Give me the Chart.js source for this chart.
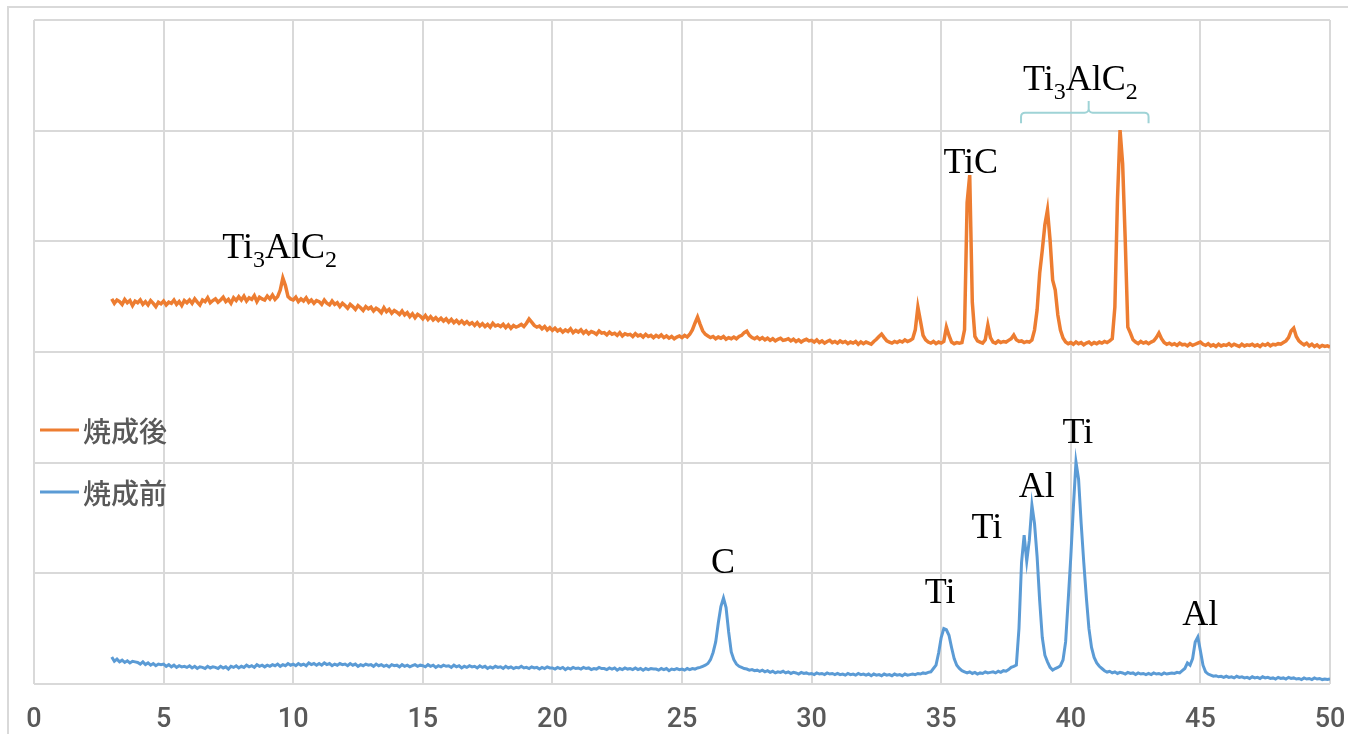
<!DOCTYPE html>
<html>
<head>
<meta charset="utf-8">
<script src="https://cdn.jsdelivr.net/npm/chart.js@4.4.1/dist/chart.umd.min.js"></script>
<style>
  html, body { margin: 0; padding: 0; background: #fff; overflow: hidden; }
  #frame { position: absolute; left: 7px; top: 6px; width: 2000px; height: 2000px;
           border-top: 2px solid #d9d9d9; border-left: 2px solid #d9d9d9; }
  #wrap { position: absolute; left: 0; top: 0; width: 1348px; height: 734px; }
</style>
</head>
<body>
<div id="frame"></div>
<div id="wrap"><canvas id="myChart" width="1348" height="734"></canvas></div>
<script>
// scan grid: 2theta from 3.0 to 50.0, step 0.1
let scanStart = 3.0;
let scanStep = 0.1;

// 焼成後 (after firing), one row per degree
let afterFiring = [
  3480,3440,3470,3455,3430,3475,3445,3465,3420,3460,
  3445,3470,3430,3455,3425,3465,3440,3410,3450,3435,
  3460,3425,3450,3440,3470,3430,3455,3420,3465,3445,
  3470,3440,3480,3450,3425,3470,3455,3490,3445,3465,
  3480,3450,3470,3495,3455,3475,3440,3490,3465,3500,
  3470,3505,3460,3490,3475,3510,3455,3495,3480,3470,
  3505,3480,3515,3475,3500,3560,3668,3600,3500,3480,
  3470,3495,3455,3480,3460,3490,3450,3470,3440,3465,
  3455,3430,3470,3440,3425,3460,3430,3445,3410,3440,
  3420,3395,3430,3410,3385,3420,3400,3375,3410,3390,
  3405,3370,3395,3380,3355,3400,3365,3385,3350,3375,
  3360,3340,3370,3335,3355,3320,3345,3310,3340,3325,
  3300,3330,3295,3320,3290,3310,3285,3305,3280,3300,
  3270,3295,3265,3285,3260,3280,3255,3275,3250,3265,
  3240,3265,3235,3255,3230,3250,3225,3260,3235,3245,
  3230,3250,3220,3245,3215,3240,3225,3235,3250,3230,
  3260,3298,3270,3240,3225,3235,3210,3230,3200,3220,
  3195,3215,3190,3205,3180,3200,3185,3210,3175,3195,
  3180,3200,3170,3190,3165,3185,3175,3160,3190,3170,
  3175,3155,3180,3160,3170,3150,3175,3145,3165,3155,
  3160,3140,3165,3145,3155,3135,3160,3140,3150,3130,
  3150,3135,3155,3130,3145,3125,3140,3120,3135,3145,
  3130,3150,3135,3160,3200,3260,3316,3250,3190,3160,
  3145,3130,3140,3120,3135,3125,3140,3115,3130,3120,
  3135,3120,3140,3150,3175,3189,3150,3130,3120,3135,
  3115,3130,3110,3125,3105,3120,3100,3115,3125,3105,
  3110,3120,3100,3115,3095,3110,3090,3105,3115,3100,
  3105,3090,3110,3085,3100,3080,3095,3105,3085,3095,
  3080,3100,3085,3095,3075,3090,3080,3095,3070,3090,
  3075,3090,3080,3070,3095,3115,3140,3162,3130,3100,
  3090,3080,3095,3085,3100,3090,3110,3095,3105,3120,
  3200,3406,3280,3150,3110,3090,3080,3095,3075,3090,
  3080,3095,3225,3150,3090,3075,3085,3080,3085,3200,
  4350,4599,3450,3140,3100,3090,3080,3110,3244,3130,
  3090,3080,3100,3085,3095,3090,3105,3120,3153,3110,
  3095,3100,3085,3095,3090,3108,3198,3379,3713,3921,
  4150,4283,4012,3650,3560,3334,3198,3126,3090,3075,
  3085,3070,3090,3075,3085,3065,3080,3090,3070,3085,
  3075,3090,3080,3095,3085,3100,3120,3406,4373,5005,
  4700,4012,3225,3171,3110,3090,3075,3095,3080,3090,
  3075,3090,3100,3130,3171,3120,3085,3070,3080,3065,
  3075,3060,3080,3065,3070,3055,3075,3060,3070,3080,
  3090,3070,3060,3075,3055,3065,3050,3070,3055,3065,
  3060,3075,3055,3070,3060,3050,3070,3055,3065,3060,
  3070,3055,3065,3050,3070,3060,3075,3055,3070,3065,
  3075,3070,3085,3100,3130,3190,3216,3140,3100,3080,
  3065,3080,3055,3070,3050,3065,3045,3060,3050,3055,
  3045
];

// 焼成前 (before firing)
let beforeFiring = [
  245,205,225,200,215,195,210,190,205,200,
  195,180,200,175,190,170,185,165,180,175,
  180,160,175,155,170,150,165,155,160,150,
  165,145,160,140,155,150,140,160,145,155,
  150,140,160,145,155,135,160,150,165,145,
  160,150,170,155,165,150,175,160,170,155,
  170,160,175,165,180,160,175,165,185,170,
  180,165,185,170,180,165,190,175,185,170,
  185,170,190,175,185,165,180,170,185,175,
  180,165,185,170,180,160,175,165,180,170,
  175,160,180,165,175,160,170,155,175,165,
  170,155,175,160,170,155,165,175,160,170,
  165,155,175,160,170,150,165,155,170,160,
  165,150,170,155,165,145,160,150,165,155,
  160,145,165,150,160,140,155,145,160,150,
  155,140,160,145,155,140,150,145,160,145,
  150,140,155,145,150,135,150,140,155,145,
  145,135,150,140,150,130,145,135,150,140,
  145,135,150,140,145,130,140,135,150,140,
  140,130,145,135,145,125,140,130,145,135,
  140,130,145,130,140,125,140,130,140,135,
  135,125,140,130,140,120,135,130,140,130,
  135,125,140,130,140,135,145,150,160,170,
  185,220,285,380,551,700,777,690,470,290,
  220,180,160,150,140,135,125,130,120,125,
  115,125,110,120,105,115,100,110,105,115,
  100,110,95,105,100,90,105,95,100,90,
  95,85,100,90,95,85,100,90,95,85,
  95,85,90,80,95,85,90,80,95,85,
  90,80,90,75,90,80,85,75,90,80,
  85,75,90,80,85,75,90,80,85,90,
  85,95,90,100,95,105,110,140,170,280,
  420,500,490,440,330,230,170,140,120,110,
  100,110,95,105,90,100,95,110,100,105,
  110,100,115,105,120,115,130,150,160,172,
  500,1100,1346,1110,1300,1617,1450,1150,750,420,
  260,200,150,126,140,150,165,217,380,759,
  1150,1600,2006,1850,1450,1100,780,500,330,240,
  190,160,140,120,108,115,100,110,95,105,
  100,90,105,95,100,85,100,90,95,85,
  95,85,100,90,95,85,100,90,95,100,
  95,105,100,120,140,190,170,230,380,425,
  300,170,110,90,80,70,75,65,70,60,
  70,60,65,55,70,60,65,55,60,50,
  65,55,60,50,65,55,60,50,55,45,
  60,50,55,45,60,50,55,45,50,40,
  55,45,50,40,55,45,50,40,45,40,
  45
];

let seriesNames = ['焼成後', '焼成前'];
let seriesColors = ['#ED7D31', '#5B9BD5'];

// peak labels: text ('_' marks a subscript digit), 2theta, intensity at baseline
let peakTexts  = ['Ti_3AlC_2', 'TiC', 'Ti_3AlC_2', 'C', 'Ti', 'Ti', 'Al', 'Ti', 'Al'];
let peakAngles = [9.48, 36.14, 40.37, 26.58, 34.96, 36.76, 38.69, 40.27, 44.99];
let peakLevels = [3849, 4617, 5367, 1003, 732, 1319, 1690, 2177, 533];

// bracket over the two Ti3AlC2 peaks: from, to, middle (2theta), bar / end / tip intensity
let bracketAngles = [38.08, 43.0, 40.69];
let bracketLevels = [5163, 5066, 5267];

let angles = [];
for (let i = 0; i < afterFiring.length; i++) {
    angles.push(Math.round((scanStart + i * scanStep) * 10) / 10);
}

function drawSubText(ctx, text, cx, baseY) {
    let parts = [];
    for (let i = 0; i < text.length; i++) {
        if (text[i] === '_') {
            parts.push({ t: text[i + 1], sub: true });
            i++;
        } else if (parts.length && !parts[parts.length - 1].sub) {
            parts[parts.length - 1].t += text[i];
        } else {
            parts.push({ t: text[i], sub: false });
        }
    }
    let big = '36px "Liberation Serif", "Times New Roman", serif';
    let small = '24px "Liberation Serif", "Times New Roman", serif';
    let total = 0;
    parts.forEach(p => {
        ctx.font = p.sub ? small : big;
        p.w = ctx.measureText(p.t).width;
        total += p.w;
    });
    let x = cx - total / 2;
    ctx.textAlign = 'left';
    ctx.textBaseline = 'alphabetic';
    ctx.fillStyle = '#000';
    parts.forEach(p => {
        ctx.font = p.sub ? small : big;
        ctx.fillText(p.t, x, p.sub ? baseY + 9 : baseY);
        x += p.w;
    });
}

const labelPlugin = {
    id: 'peakLabels',
    afterDatasetsDraw(chart) {
        const ctx = chart.ctx;
        const xs = chart.scales.x, ys = chart.scales.y;
        ctx.save();
        for (let i = 0; i < peakTexts.length; i++) {
            drawSubText(ctx, peakTexts[i], xs.getPixelForValue(peakAngles[i]), ys.getPixelForValue(peakLevels[i]));
        }
        // bracket
        let x1 = xs.getPixelForValue(bracketAngles[0]);
        let x2 = xs.getPixelForValue(bracketAngles[1]);
        let xm = xs.getPixelForValue(bracketAngles[2]);
        let yBar = ys.getPixelForValue(bracketLevels[0]);
        let yEnd = ys.getPixelForValue(bracketLevels[1]);
        let yTip = ys.getPixelForValue(bracketLevels[2]);
        let r = 4;
        ctx.strokeStyle = '#9fd3d6';
        ctx.lineWidth = 2;
        ctx.beginPath();
        ctx.moveTo(x1, yEnd);
        ctx.arcTo(x1, yBar, x1 + r, yBar, r);
        ctx.arcTo(xm, yBar, xm, yTip, r);
        ctx.lineTo(xm, yTip);
        ctx.moveTo(x2, yEnd);
        ctx.arcTo(x2, yBar, x2 - r, yBar, r);
        ctx.arcTo(xm, yBar, xm, yTip, r);
        ctx.stroke();
        ctx.restore();
    }
};

const legendPlugin = {
    id: 'sideLegend',
    afterDraw(chart, args, opts) {
        const ctx = chart.ctx;
        ctx.save();
        chart.data.datasets.forEach((ds, i) => {
            let y = opts.rows[i];
            ctx.strokeStyle = ds.borderColor;
            ctx.lineWidth = 3;
            ctx.beginPath();
            ctx.moveTo(opts.left, y);
            ctx.lineTo(opts.left + 39, y);
            ctx.stroke();
            ctx.fillStyle = '#595959';
            ctx.font = '500 28px "Noto Sans CJK JP", sans-serif';
            ctx.textAlign = 'left';
            ctx.textBaseline = 'middle';
            ctx.fillText(ds.label, opts.left + 43, y + 1);
        });
        ctx.restore();
    }
};

var ctx = document.getElementById('myChart').getContext('2d');
var myChart = new Chart(ctx, {
    type: 'line',
    data: {
        labels: angles,
        datasets: [{
            label: seriesNames[0],
            data: afterFiring,
            borderColor: seriesColors[0],
            borderWidth: 3.5,
            pointRadius: 0,
            tension: 0
        },
        {
            label: seriesNames[1],
            data: beforeFiring,
            borderColor: seriesColors[1],
            borderWidth: 3,
            pointRadius: 0,
            tension: 0
        }]
    },
    options: {
        responsive: false,
        animation: false,
        layout: { padding: { left: 34, right: 18, top: 20, bottom: 0 } },
        plugins: {
            legend: { display: false },
            tooltip: { enabled: false },
            sideLegend: { left: 40, rows: [430, 492] }
        },
        scales: {
            x: {
                type: 'linear',
                min: 0,
                max: 50,
                ticks: {
                    stepSize: 5,
                    color: '#595959',
                    padding: 20,
                    font: { family: 'Roboto, sans-serif', size: 27, weight: '500' }
                },
                grid: { color: '#d9d9d9', lineWidth: 2, drawTicks: false },
                border: { display: false },
                afterFit: s => { s.height = 50; s.paddingLeft = 0; s.paddingRight = 0; }
            },
            y: {
                min: 0,
                max: 6000,
                ticks: { display: false, stepSize: 1000 },
                grid: { color: '#d9d9d9', lineWidth: 2, drawTicks: false },
                border: { display: false },
                afterFit: s => { s.width = 0; }
            }
        }
    },
    plugins: [labelPlugin, legendPlugin]
});
</script>
</body>
</html>
